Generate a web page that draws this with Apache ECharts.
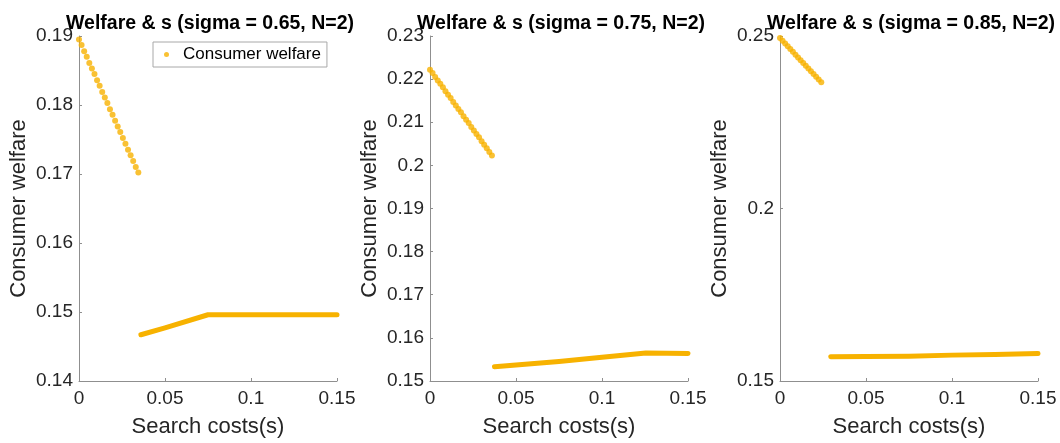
<!DOCTYPE html>
<html>
<head>
<meta charset="utf-8">
<script src="https://cdn.jsdelivr.net/npm/echarts@6/dist/echarts.min.js"></script>
<style>
html,body{margin:0;padding:0;background:#fff;}
#chart{width:1060px;height:443px;}
</style>
</head>
<body>
<div id="chart"></div>
<script>
// ---- data ----
var titles = ['Welfare & s (sigma = 0.65, N=2)', 'Welfare & s (sigma = 0.75, N=2)', 'Welfare & s (sigma = 0.85, N=2)'];
var seriesName = 'Consumer welfare';
var xTicks = [0, 0.05, 0.1, 0.15];

// search-cost grid for the upper (dotted) branch
var sGrid = [0, 0.0015, 0.003, 0.0045, 0.006, 0.0075, 0.009, 0.0105, 0.012, 0.0135, 0.015, 0.0165,
             0.018, 0.0195, 0.021, 0.0225, 0.024, 0.0255, 0.027, 0.0285, 0.03, 0.0315, 0.033, 0.0345, 0.036];

// panel 1 (sigma = 0.65)
var up1 = [0.1895, 0.1887, 0.1878, 0.1870, 0.1861, 0.1853, 0.1845, 0.1836, 0.1828, 0.1819, 0.1811, 0.1803,
           0.1794, 0.1786, 0.1777, 0.1769, 0.1761, 0.1752, 0.1744, 0.1735, 0.1727, 0.1719, 0.1710, 0.1702];
var low1S = [0.0360, 0.0500, 0.0750, 0.1000, 0.1250, 0.1500];
var low1 =  [0.1467, 0.1477, 0.1496, 0.1496, 0.1496, 0.1496];

// panel 2 (sigma = 0.75)
var up2 = [0.2222, 0.2214, 0.2205, 0.2197, 0.2189, 0.2181, 0.2172, 0.2164, 0.2156, 0.2147, 0.2139, 0.2131,
           0.2123, 0.2114, 0.2106, 0.2098, 0.2089, 0.2081, 0.2073, 0.2065, 0.2056, 0.2048, 0.2040, 0.2031, 0.2023];
var low2S = [0.0375, 0.0500, 0.0750, 0.1000, 0.1255, 0.1500];
var low2 =  [0.1533, 0.1537, 0.1545, 0.1555, 0.1565, 0.1564];

// panel 3 (sigma = 0.85)
var up3 = [0.2494, 0.2486, 0.2478, 0.2470, 0.2462, 0.2454, 0.2446, 0.2438, 0.2430, 0.2422, 0.2414, 0.2406,
           0.2398, 0.2390, 0.2382, 0.2374, 0.2366];
var low3S = [0.0295, 0.0500, 0.0750, 0.1000, 0.1250, 0.1500];
var low3 =  [0.1570, 0.1571, 0.1572, 0.1575, 0.1577, 0.1580];

var yMin = [0.14, 0.15, 0.15];
var yMax = [0.19, 0.23, 0.25];
var yStep = [0.01, 0.01, 0.05];

// ---- chart ----
var FONT = 'Liberation Sans, Arial, Helvetica, sans-serif';
var COLOR = '#F7B200';
var AXIS = '#8f8f8f';
var TXT = '#262626';
var lefts = [79, 430, 780];
var W = 258, TOP = 36, H = 351;

function pairs(xs, ys) { var out = []; for (var i = 0; i < ys.length; i++) out.push([xs[i], ys[i]]); return out; }
var ups = [up1, up2, up3];
var lowsS = [low1S, low2S, low3S];
var lows = [low1, low2, low3];

var option = {
  backgroundColor: '#fff',
  animation: false,
  textStyle: { fontFamily: FONT },
  title: [], grid: [], xAxis: [], yAxis: [], series: [],
  legend: {
    data: [seriesName],
    left: 153, top: 42,
    orient: 'vertical',
    icon: 'circle', itemWidth: 5, itemHeight: 5,
    padding: [4, 6, 4, 11],
    borderColor: '#a8a8a8', borderWidth: 1, backgroundColor: '#fff',
    textStyle: { fontSize: 17, color: '#000', fontFamily: FONT, padding: [0, 0, 0, 9] }
  }
};

for (var p = 0; p < 3; p++) {
  option.title.push({
    text: titles[p], left: lefts[p] + W / 2 - 3, top: 9, textAlign: 'center',
    textStyle: { fontSize: 19.5, fontWeight: 'bold', color: '#000', fontFamily: FONT }
  });
  option.grid.push({ left: lefts[p], top: TOP, width: W, height: H, containLabel: false });
  option.xAxis.push({
    type: 'value', gridIndex: p, min: 0, max: 0.15, interval: 0.05,
    name: 'Search costs(s)', nameLocation: 'middle', nameGap: 35,
    nameTextStyle: { fontSize: 22, color: TXT, fontFamily: FONT },
    axisLine: { show: true, lineStyle: { color: AXIS, width: 1 } },
    axisTick: { show: true, inside: true, length: 3, lineStyle: { color: AXIS } },
    axisLabel: { fontSize: 19, color: TXT, margin: 8, fontFamily: FONT,
                 formatter: function (v) { return String(+v.toFixed(4)); } },
    splitLine: { show: false }
  });
  option.yAxis.push({
    type: 'value', gridIndex: p, min: yMin[p], max: yMax[p], interval: yStep[p],
    name: 'Consumer welfare', nameLocation: 'middle', nameGap: 49,
    nameTextStyle: { fontSize: 22, color: TXT, fontFamily: FONT },
    axisLine: { show: true, lineStyle: { color: AXIS, width: 1 } },
    axisTick: { show: true, inside: true, length: 3, lineStyle: { color: AXIS } },
    axisLabel: { fontSize: 19, color: TXT, margin: 6, fontFamily: FONT,
                 formatter: function (v) { return String(+v.toFixed(4)); } },
    splitLine: { show: false }
  });
  option.series.push({
    name: seriesName, type: 'scatter', xAxisIndex: p, yAxisIndex: p,
    data: pairs(sGrid, ups[p]), symbol: 'circle', symbolSize: 6,
    itemStyle: { color: COLOR }, silent: true
  });
  option.series.push({
    name: seriesName, type: 'line', xAxisIndex: p, yAxisIndex: p,
    data: pairs(lowsS[p], lows[p]), showSymbol: false, symbol: 'none',
    lineStyle: { color: COLOR, width: 5, cap: 'round', join: 'round' },
    itemStyle: { color: COLOR }, silent: true
  });
}

var chart = echarts.init(document.getElementById('chart'), null, { renderer: 'canvas' });
chart.setOption(option);
</script>
</body>
</html>
